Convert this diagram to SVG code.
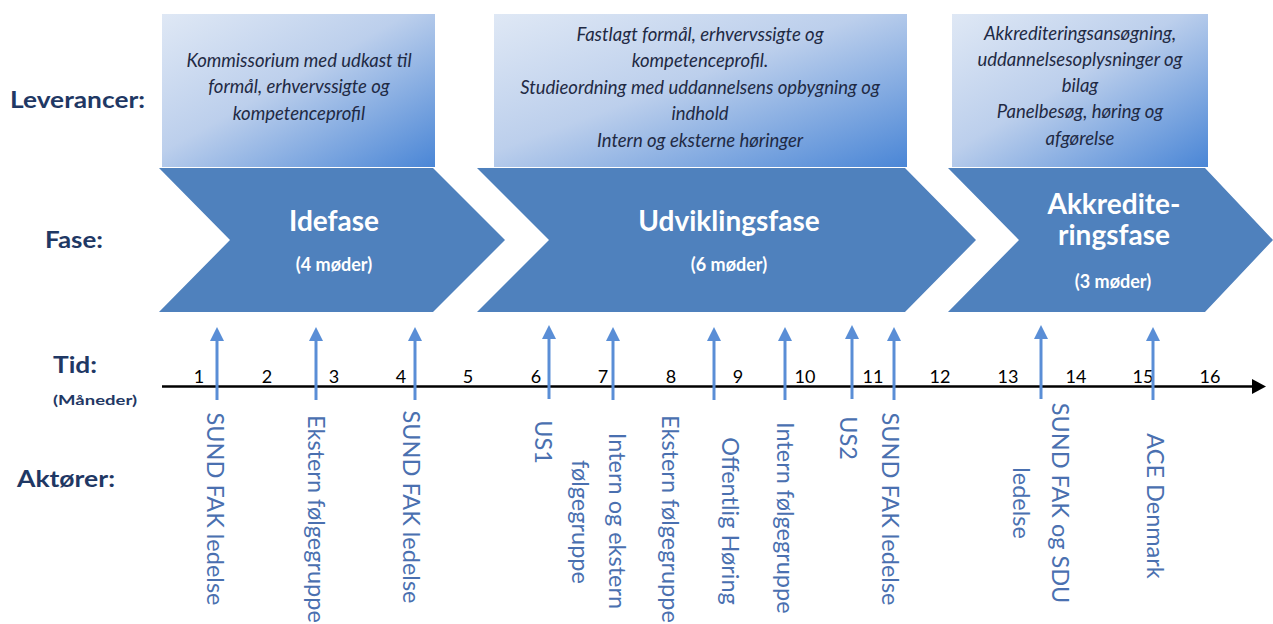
<svg xmlns="http://www.w3.org/2000/svg" width="1273" height="624" viewBox="0 0 1273 624">
<defs>
<linearGradient id="boxg" x1="0" y1="0" x2="1" y2="1">
<stop offset="0" stop-color="#DFE8F5"/>
<stop offset="0.45" stop-color="#BCCFEC"/>
<stop offset="1" stop-color="#4A86D6"/>
</linearGradient>
</defs>
<style>
.head{font-family:Lato,"Liberation Sans",sans-serif;font-weight:bold;fill:#1F3864}
.box{fill:url(#boxg)}
.btxt{font-family:Lato,"Liberation Sans",sans-serif;font-style:italic;font-size:18.5px;fill:#1F2A44;text-anchor:middle}
.chev{fill:#4F81BD}
.ctitle{font-family:Lato,"Liberation Sans",sans-serif;font-weight:bold;font-size:28px;fill:#FFFFFF;text-anchor:middle}
.csub{font-family:Lato,"Liberation Sans",sans-serif;font-weight:bold;font-size:18px;fill:#FFFFFF;text-anchor:middle}
.num{font-family:Lato,"Liberation Sans",sans-serif;font-size:18px;fill:#000;text-anchor:middle}
.lbl{font-family:Lato,"Liberation Sans",sans-serif;font-size:23.5px;fill:#4A70B0}
.arr{stroke:#5A8ED6;stroke-width:3;fill:none}
.arrh{fill:#5A8ED6}
</style>

<g id="row-labels">
<text class="head" x="10" y="108" font-size="23" textLength="135" lengthAdjust="spacingAndGlyphs">Leverancer:</text>
<text class="head" x="45" y="248" font-size="23" textLength="58" lengthAdjust="spacingAndGlyphs">Fase:</text>
<text class="head" x="53" y="373" font-size="23" textLength="44" lengthAdjust="spacingAndGlyphs">Tid:</text>
<text class="head" x="53" y="405" font-size="14" textLength="84" lengthAdjust="spacingAndGlyphs">(Måneder)</text>
<text class="head" x="17" y="487" font-size="23" textLength="98" lengthAdjust="spacingAndGlyphs">Aktører:</text>
</g>

<g id="deliverable-1">
<rect class="box" x="162" y="14" width="273" height="153"/>
<text class="btxt" x="299" y="67">Kommissorium med udkast til</text>
<text class="btxt" x="299" y="93">formål, erhvervssigte og</text>
<text class="btxt" x="299" y="120">kompetenceprofil</text>
</g>
<g id="deliverable-2">
<rect class="box" x="494" y="14" width="413" height="153"/>
<text class="btxt" x="700" y="41">Fastlagt formål, erhvervssigte og</text>
<text class="btxt" x="700" y="67">kompetenceprofil.</text>
<text class="btxt" x="700" y="94">Studieordning med uddannelsens opbygning og</text>
<text class="btxt" x="700" y="120">indhold</text>
<text class="btxt" x="700" y="147">Intern og eksterne høringer</text>
</g>
<g id="deliverable-3">
<rect class="box" x="952" y="14" width="256" height="153"/>
<text class="btxt" x="1080" y="40">Akkrediteringsansøgning,</text>
<text class="btxt" x="1080" y="66">uddannelsesoplysninger og</text>
<text class="btxt" x="1080" y="92">bilag</text>
<text class="btxt" x="1080" y="118">Panelbesøg, høring og</text>
<text class="btxt" x="1080" y="145">afgørelse</text>
</g>

<g id="phase-1">
<polygon class="chev" points="159,168 433,168 505,240 433,312 159,312 230,240"/>
<text class="ctitle" x="334" y="231">Idefase</text>
<text class="csub" x="334" y="271">(4 møder)</text>
</g>
<g id="phase-2">
<polygon class="chev" points="477,168 905,168 976,240 905,312 477,312 549,240"/>
<text class="ctitle" x="729" y="231">Udviklingsfase</text>
<text class="csub" x="729" y="271">(6 møder)</text>
</g>
<g id="phase-3">
<polygon class="chev" points="948,168 1205,168 1273,240 1205,312 948,312 1019,240"/>
<text class="ctitle" x="1114" y="214">Akkredite-</text>
<text class="ctitle" x="1114" y="245">ringsfase</text>
<text class="csub" x="1113" y="288">(3 møder)</text>
</g>

<g id="timeline">
<line x1="162" y1="386.5" x2="1254" y2="386.5" stroke="#000" stroke-width="2.5"/>
<polygon points="1252,379 1266,386.5 1252,394" fill="#000"/>
<text class="num" x="199" y="383">1</text>
<text class="num" x="267" y="383">2</text>
<text class="num" x="334" y="383">3</text>
<text class="num" x="401" y="383">4</text>
<text class="num" x="468" y="383">5</text>
<text class="num" x="536" y="383">6</text>
<text class="num" x="603" y="383">7</text>
<text class="num" x="671" y="383">8</text>
<text class="num" x="738" y="383">9</text>
<text class="num" x="805" y="383">10</text>
<text class="num" x="873" y="383">11</text>
<text class="num" x="940" y="383">12</text>
<text class="num" x="1008" y="383">13</text>
<text class="num" x="1076" y="383">14</text>
<text class="num" x="1143" y="383">15</text>
<text class="num" x="1210" y="383">16</text>
</g>

<g id="connectors">
<line class="arr" x1="217" y1="400" x2="217" y2="338"/><polygon class="arrh" points="210,341 217,327 224,341"/>
<line class="arr" x1="316" y1="400" x2="316" y2="338"/><polygon class="arrh" points="309,341 316,327 323,341"/>
<line class="arr" x1="415" y1="400" x2="415" y2="338"/><polygon class="arrh" points="408,341 415,327 422,341"/>
<line class="arr" x1="549" y1="399" x2="549" y2="336"/><polygon class="arrh" points="542,339 549,325 556,339"/>
<line class="arr" x1="613" y1="400" x2="613" y2="338"/><polygon class="arrh" points="606,341 613,327 620,341"/>
<line class="arr" x1="714" y1="400" x2="714" y2="338"/><polygon class="arrh" points="707,341 714,327 721,341"/>
<line class="arr" x1="785" y1="400" x2="785" y2="338"/><polygon class="arrh" points="778,341 785,327 792,341"/>
<line class="arr" x1="852" y1="399" x2="852" y2="336"/><polygon class="arrh" points="845,339 852,325 859,339"/>
<line class="arr" x1="894" y1="400" x2="894" y2="338"/><polygon class="arrh" points="887,341 894,327 901,341"/>
<line class="arr" x1="1041" y1="399" x2="1041" y2="336"/><polygon class="arrh" points="1034,339 1041,325 1048,339"/>
<line class="arr" x1="1153" y1="400" x2="1153" y2="338"/><polygon class="arrh" points="1146,341 1153,327 1160,341"/>
</g>

<g id="actor-1"><text class="lbl" transform="translate(207,509) rotate(90)" text-anchor="middle">SUND FAK ledelse</text></g>
<g id="actor-2"><text class="lbl" transform="translate(308,415) rotate(90)">Ekstern følgegruppe</text></g>
<g id="actor-3"><text class="lbl" transform="translate(403,507) rotate(90)" text-anchor="middle">SUND FAK ledelse</text></g>
<g id="actor-4"><text class="lbl" transform="translate(535,442) rotate(90)" text-anchor="middle">US1</text></g>
<g id="actor-5">
<text class="lbl" transform="translate(609,521) rotate(90)" text-anchor="middle">Intern og ekstern</text>
<text class="lbl" transform="translate(572,522) rotate(90)" text-anchor="middle">følgegruppe</text>
</g>
<g id="actor-6"><text class="lbl" transform="translate(662,415) rotate(90)">Ekstern følgegruppe</text></g>
<g id="actor-7"><text class="lbl" transform="translate(722,521) rotate(90)" text-anchor="middle">Offentlig Høring</text></g>
<g id="actor-8"><text class="lbl" transform="translate(777,422) rotate(90)">Intern følgegruppe</text></g>
<g id="actor-9"><text class="lbl" transform="translate(840,438) rotate(90)" text-anchor="middle">US2</text></g>
<g id="actor-10"><text class="lbl" transform="translate(882,509) rotate(90)" text-anchor="middle">SUND FAK ledelse</text></g>
<g id="actor-11">
<text class="lbl" transform="translate(1052,503) rotate(90)" text-anchor="middle">SUND FAK og SDU</text>
<text class="lbl" transform="translate(1013,503) rotate(90)" text-anchor="middle">ledelse</text>
</g>
<g id="actor-12"><text class="lbl" transform="translate(1147,506) rotate(90)" text-anchor="middle">ACE Denmark</text></g>
</svg>
